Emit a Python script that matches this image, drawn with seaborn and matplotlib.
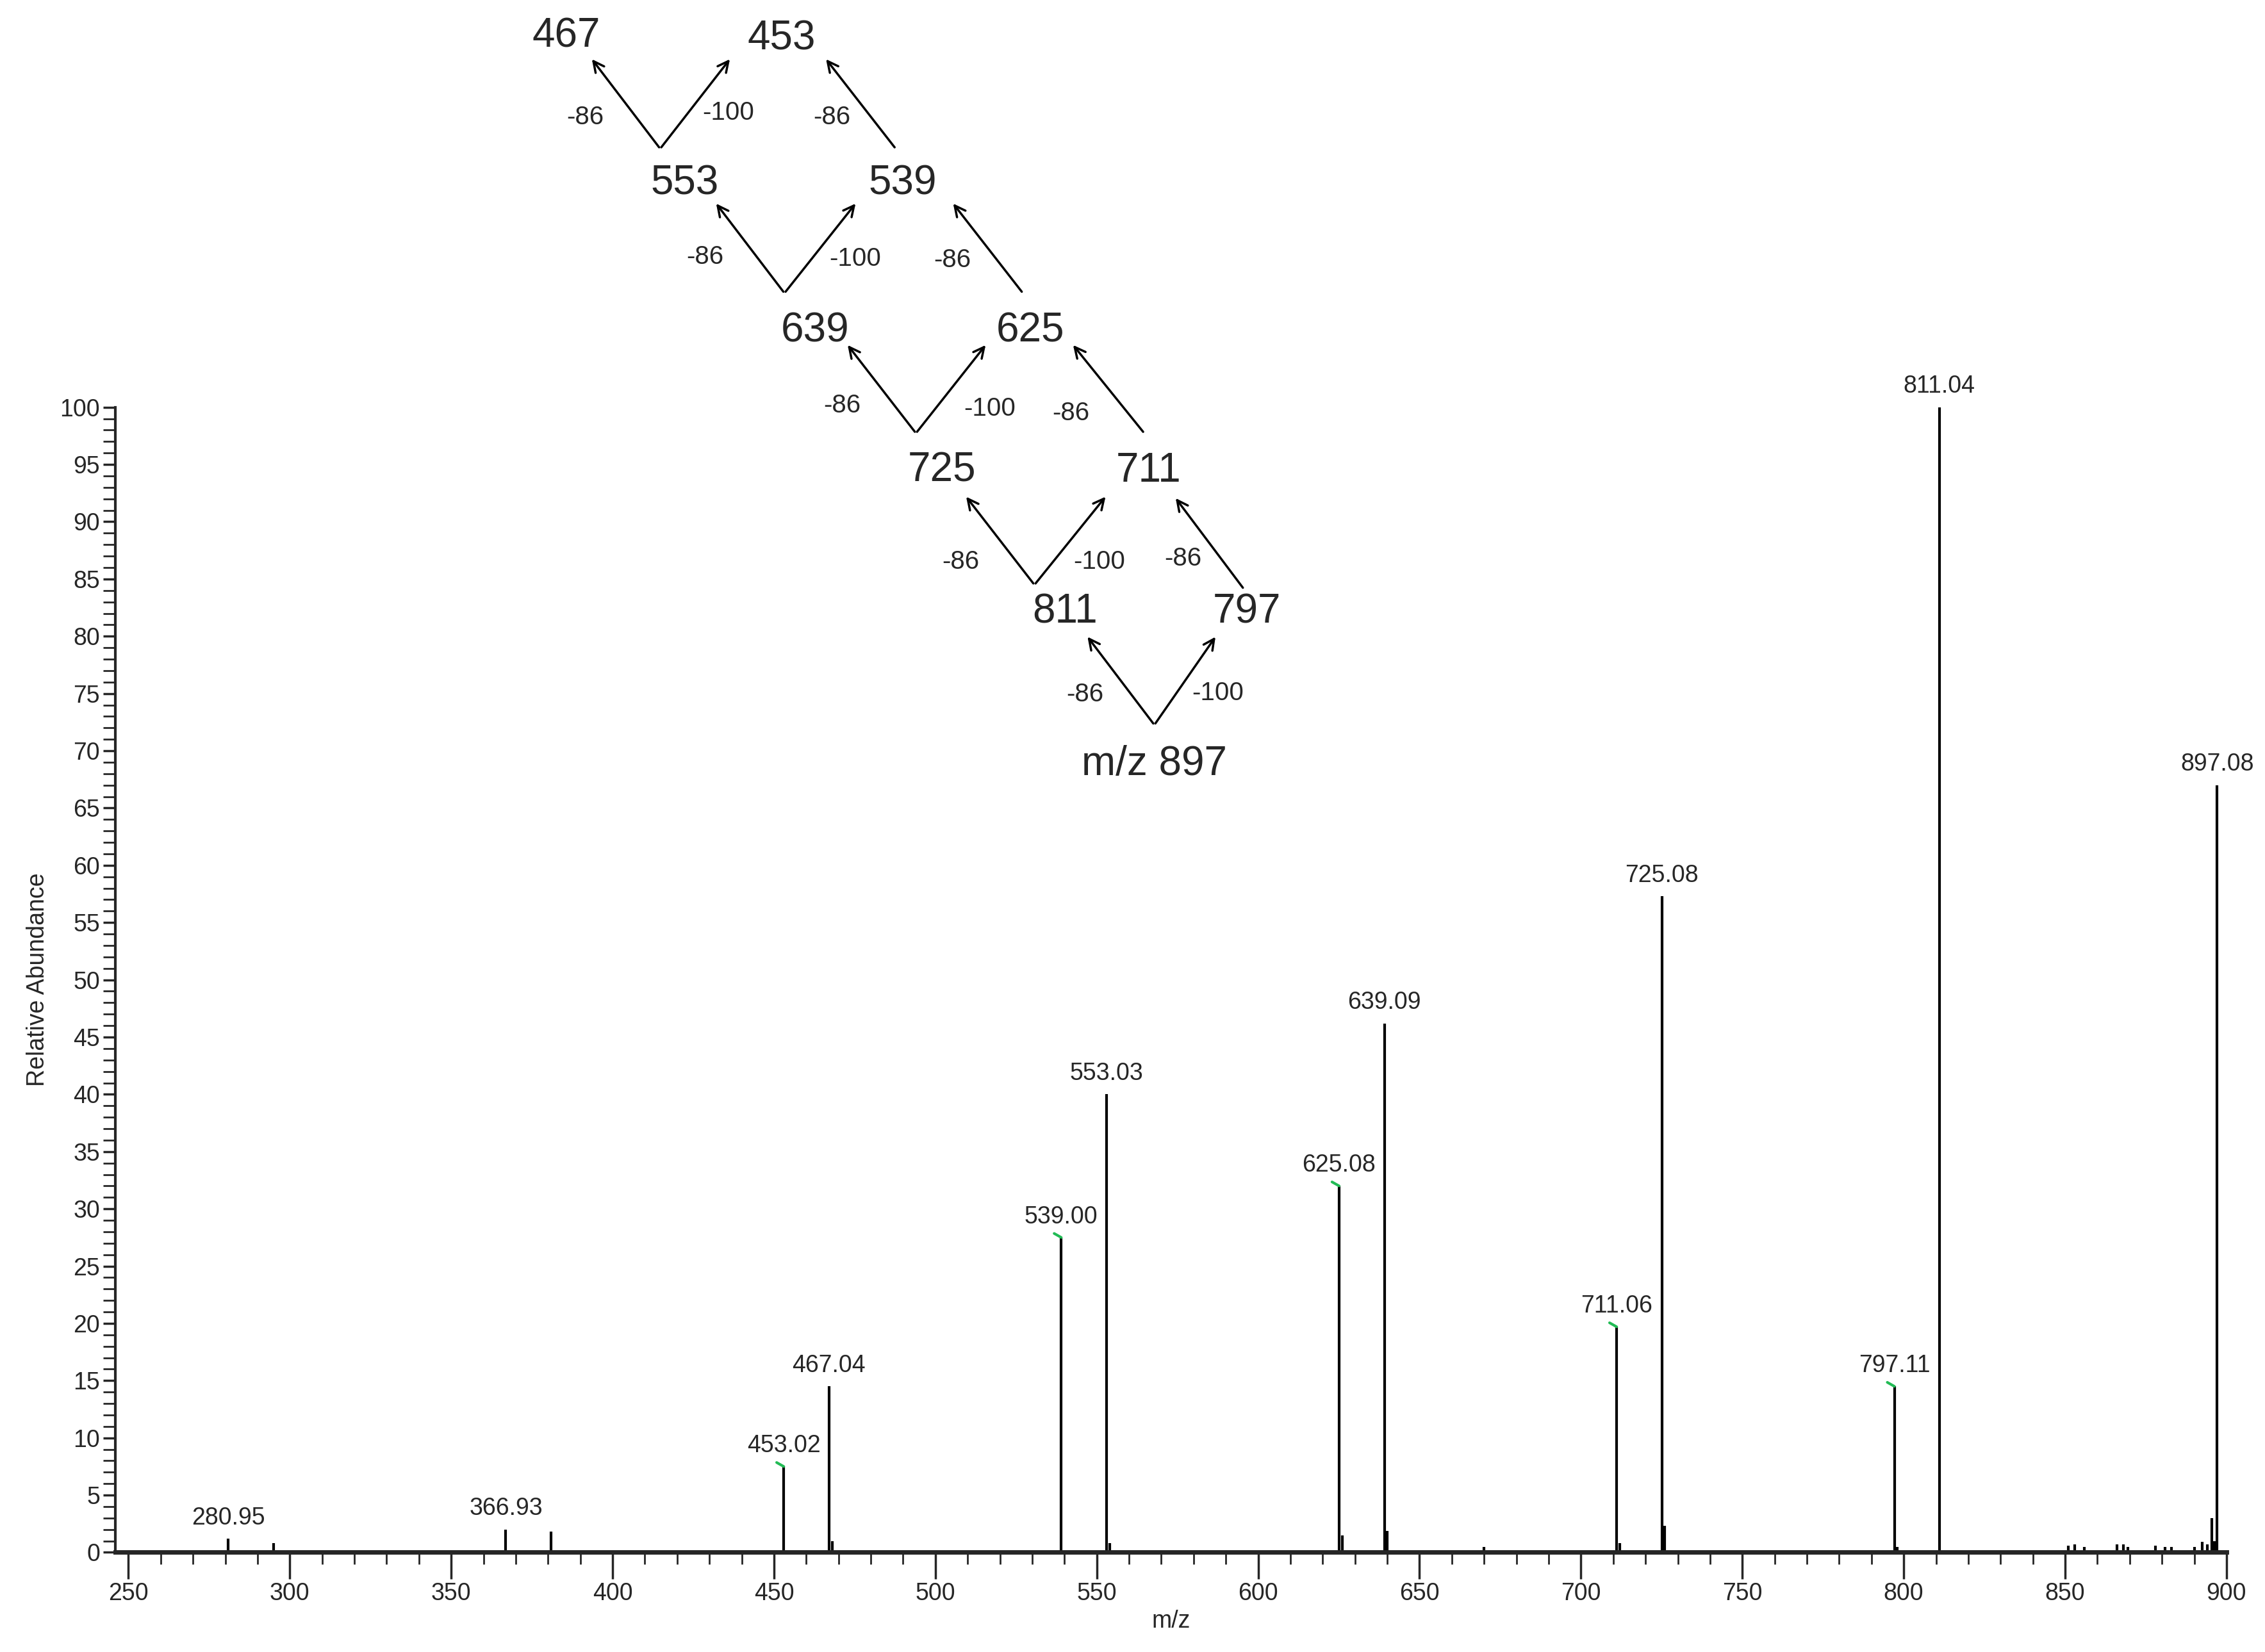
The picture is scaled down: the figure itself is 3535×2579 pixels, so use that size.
import numpy as np
import matplotlib
matplotlib.use("Agg")
import matplotlib.pyplot as plt
import seaborn as sns

# labelled peaks
peak_mz = [280.95, 366.93, 453.02, 467.04, 539.00, 553.03, 625.08, 639.09,
           711.06, 725.08, 797.11, 811.04, 897.08]
peak_int = [1.2, 2.0, 7.5, 14.5, 27.5, 40.0, 32.0, 46.2, 19.7, 57.3, 14.5, 100.0, 67.0]
# unlabelled minor peaks
minor_mz = [295.0, 381.0, 468.0, 554.0, 626.0, 640.0, 670.0, 712.0, 726.0, 798.0,
            851.0, 853.0, 856.0, 866.0, 868.0, 869.5, 878.0, 881.0, 883.0,
            890.0, 892.5, 894.0, 895.5, 896.2]
minor_int = [0.8, 1.8, 1.0, 0.8, 1.5, 1.9, 0.5, 0.8, 2.3, 0.5,
             0.6, 0.7, 0.5, 0.7, 0.7, 0.5, 0.6, 0.5, 0.5,
             0.5, 0.9, 0.7, 3.0, 1.0]
green_marked = [453.02, 539.00, 625.08, 711.06, 797.11]

# fragmentation scheme (positions in reference pixel space, 1568x1144 view)
scheme_nodes = [("467", 392, 25), ("453", 541, 27), ("553", 474, 127), ("539", 625, 127),
                ("639", 564, 229), ("625", 713, 229), ("725", 652, 326), ("711", 795, 326),
                ("811", 737, 424), ("797", 863, 424), ("m/z 897", 799, 529)]
scheme_arrows = [((799, 502), (752, 440)), ((799, 502), (842, 440)),
                 ((716, 405), (668, 343)), ((716, 405), (766, 343)), ((861, 408), (813, 344)),
                 ((634, 300), (586, 238)), ((634, 300), (683, 238)), ((792, 300), (742, 238)),
                 ((543, 203), (495, 140)), ((543, 203), (593, 140)), ((708, 203), (659, 140)),
                 ((457, 103), (409, 40)), ((457, 103), (506, 40)), ((620, 103), (571, 40))]
scheme_losses = [("-86", 751, 481), ("-100", 843, 480),
                 ("-86", 665, 389), ("-100", 761, 389), ("-86", 819, 387),
                 ("-86", 583, 281), ("-100", 685, 283), ("-86", 741, 286),
                 ("-86", 488, 178), ("-100", 592, 179), ("-86", 659, 180),
                 ("-86", 405, 81), ("-100", 504, 78), ("-86", 576, 81)]


def px(x, y):
    # reference view pixel -> data coordinates
    return (x - 89) / 2.2338 + 250, (1075 - y) / 7.93


sns.set_style("ticks")
plt.rcParams["font.family"] = ["Liberation Sans", "DejaVu Sans"]

fig = plt.figure(figsize=(35.35, 25.79), dpi=100)
ax = fig.add_axes([0.051, 0.0603, 0.932, 0.6932])

ax.vlines(peak_mz, 0, peak_int, color="black", lw=3)
ax.vlines(minor_mz, 0, minor_int, color="black", lw=3)
for mz, inten in zip(peak_mz, peak_int):
    ax.text(mz, inten + 0.8, f"{mz:.2f}", ha="center", va="bottom", fontsize=27)
    if mz in green_marked:
        ax.plot([mz - 2.2, mz], [inten + 0.35, inten], color="#22bb55", lw=3)

ax.set_xlim(246, 900)
ax.set_ylim(0, 100)
ax.set_xticks(np.arange(250, 901, 50))
ax.set_xticks(np.arange(250, 901, 10), minor=True)
ax.set_yticks(np.arange(0, 101, 5))
ax.set_yticks(np.arange(0, 101, 1), minor=True)
ax.tick_params(axis="both", which="major", labelsize=27, width=2.5, length=30, direction="out")
ax.tick_params(axis="both", which="minor", width=2, length=14, direction="out")
ax.tick_params(axis="y", which="major", length=14)
ax.set_xlabel("m/z", fontsize=27, labelpad=5)
ax.set_ylabel("Relative Abundance", fontsize=27, labelpad=12)
sns.despine(ax=ax)
ax.spines["left"].set_linewidth(3)
ax.spines["bottom"].set_linewidth(5)

for (x0, y0), (x1, y1) in scheme_arrows:
    ax.annotate("", xy=px(x1, y1), xytext=px(x0, y0), annotation_clip=False,
                arrowprops=dict(arrowstyle="->,head_length=1.2,head_width=0.6",
                                color="black", lw=2.5))
for label, x, y in scheme_nodes:
    xd, yd = px(x, y)
    ax.text(xd, yd, label, ha="center", va="center", fontsize=46, clip_on=False)
for label, x, y in scheme_losses:
    xd, yd = px(x, y)
    ax.text(xd, yd, label, ha="center", va="center", fontsize=29, clip_on=False)

fig.savefig("out.png", dpi=100)
